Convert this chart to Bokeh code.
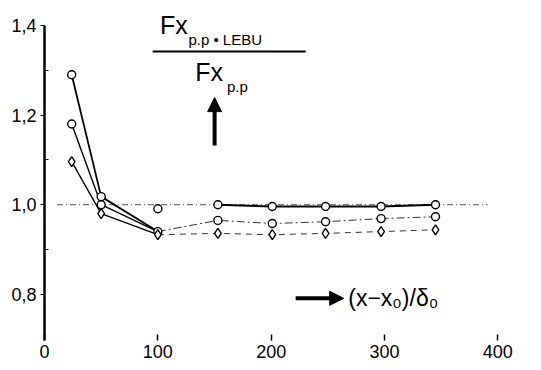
from bokeh.plotting import figure
from bokeh.models import (FixedTicker, Label, Arrow, NormalHead)
from bokeh.embed import file_html
from bokeh.resources import INLINE

# ---- data ----
x_pos = [24, 50, 100, 153, 201, 248, 297, 345]
top_vals = [1.29, 1.018, 0.991, 1.0, 0.996, 0.996, 0.996, 1.0]
mid_vals = [1.18, 1.0, 0.94, 0.965, 0.958, 0.962, 0.969, 0.973]
bot_vals = [1.096, 0.98, 0.933, 0.936, 0.933, 0.936, 0.94, 0.944]
ref_level = 1.0
ref_extent = [11, 391]

x_ticks = [0, 100, 200, 300, 400]
y_ticks = [0.8, 1.0, 1.2, 1.4]
y_tick_labels = ["0,8", "1,0", "1,2", "1,4"]
y_minor = [0.9, 1.1, 1.3]

FONT = "Liberation Sans"

p = figure(width=534, height=366, x_range=(0, 420), y_range=(0.6969, 1.4446),
           output_backend="svg", toolbar_location=None,
           min_border_left=44, min_border_right=14, min_border_top=5,
           min_border_bottom=26)
p.grid.visible = False
p.outline_line_color = None
p.background_fill_color = "white"

# reference line at 1.0 (dash-dot)
p.line(ref_extent, [ref_level, ref_level], line_color="#555555", line_width=1,
       line_dash="6 3 1 3")

# fitted curves near the origin (solid)
p.line([x_pos[0], x_pos[1], x_pos[2]], [top_vals[0], top_vals[1], mid_vals[2]],
       line_color="black", line_width=1.8)
p.line(x_pos[0:3], mid_vals[0:3], line_color="black", line_width=1.4)
p.line(x_pos[0:3], bot_vals[0:3], line_color="black", line_width=1.4)

# far-field lines
p.line(x_pos[3:], top_vals[3:], line_color="black", line_width=2)
p.line(x_pos[2:], mid_vals[2:], line_color="#333333", line_width=1,
       line_dash="8 3 2 3")
p.line(x_pos[2:], bot_vals[2:], line_color="#333333", line_width=1,
       line_dash="6 5")

# markers
for vals, mk in ((top_vals, "circle"), (mid_vals, "circle"), (bot_vals, "diamond")):
    p.scatter(x_pos, vals, marker=mk, size=8 if mk == "circle" else 10,
              fill_color="white", line_color="black", line_width=1.4)

# axes
p.xaxis.ticker = FixedTicker(ticks=x_ticks)
p.xaxis.axis_line_color = None
p.xaxis.major_tick_in = 6
p.xaxis.major_tick_out = 0
p.xaxis.minor_tick_line_color = None
p.xaxis.major_tick_line_width = 1.5
p.xaxis.major_label_text_font = FONT
p.xaxis.major_label_text_font_size = "18px"
p.xaxis.major_label_text_color = "black"
p.xaxis.major_label_standoff = 4

p.yaxis.ticker = FixedTicker(ticks=y_ticks, minor_ticks=y_minor)
p.yaxis.bounds = (0.69, 1.4)
p.yaxis.major_label_overrides = {t: l for t, l in zip(y_ticks, y_tick_labels)}
p.yaxis.axis_line_width = 2.5
p.yaxis.axis_line_color = "black"
p.yaxis.major_tick_in = 0
p.yaxis.major_tick_out = 4
p.yaxis.minor_tick_in = 4
p.yaxis.minor_tick_out = 0
p.yaxis.major_label_text_font = FONT
p.yaxis.major_label_text_font_size = "18px"
p.yaxis.major_label_text_color = "black"
p.yaxis.major_label_standoff = 4

# fraction label
p.add_layout(Label(x=102, y=1.400, text="Fx", text_font=FONT, text_font_size="25px",
                   text_baseline="middle", text_color="black"))
p.add_layout(Label(x=127, y=1.369, text="p.p  •  LEBU", text_font=FONT,
                   text_font_size="15px", text_baseline="middle", text_color="black"))
p.line([95.4, 230.5], [1.342, 1.342], line_color="black", line_width=2)
p.add_layout(Label(x=133, y=1.297, text="Fx", text_font=FONT, text_font_size="25px",
                   text_baseline="middle", text_color="black"))
p.add_layout(Label(x=161, y=1.264, text="p.p", text_font=FONT,
                   text_font_size="15px", text_baseline="middle", text_color="black"))
p.add_layout(Arrow(x_start=150.1, y_start=1.132, x_end=150.1, y_end=1.239,
                   line_width=4, line_color="black",
                   end=NormalHead(size=14, fill_color="black", line_color="black")))

# x-quantity label
p.add_layout(Arrow(x_start=221.6, y_start=0.791, x_end=264, y_end=0.791,
                   line_width=4, line_color="black",
                   end=NormalHead(size=14, fill_color="black", line_color="black")))
p.add_layout(Label(x=268, y=0.791, text="(x−x₀)/δ₀", text_font=FONT,
                   text_font_size="23px", text_baseline="middle", text_color="black"))

open("out.html", "w").write(file_html(p, INLINE))
